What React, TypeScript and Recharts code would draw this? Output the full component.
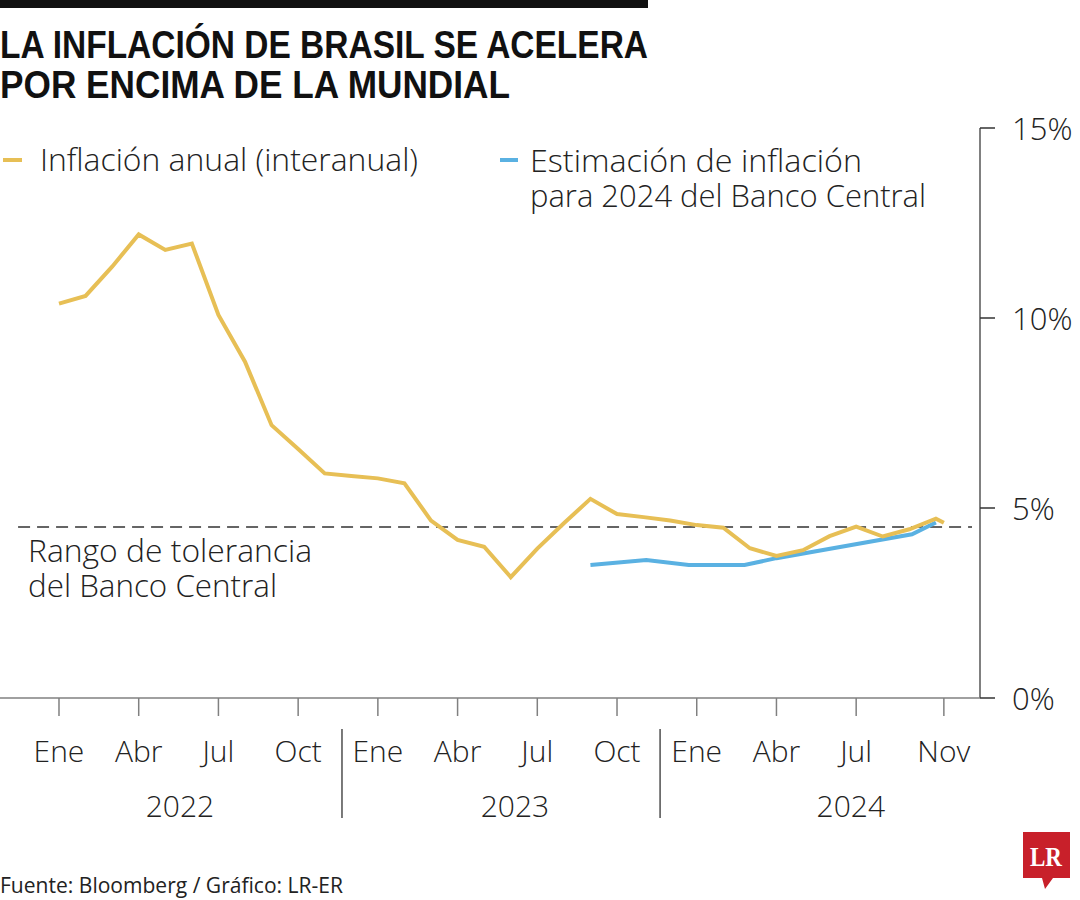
import React from 'react';
import { LineChart, Line, XAxis, YAxis, ReferenceLine } from 'recharts';

// ---- data ----
// month index: 0 = Ene 2022
const inflationMonths = [0,1,2,3,4,5,6,7,8,9,10,11,12,13,14,15,16,17,18,19,20,21,22,23,24,25,26,27,28,29,30,31,32,33,33.3];
const inflationValues = [10.38,10.58,11.35,12.2,11.79,11.96,10.08,8.85,7.18,6.55,5.91,5.84,5.78,5.65,4.67,4.16,3.98,3.18,3.93,4.6,5.24,4.84,4.76,4.67,4.55,4.48,3.94,3.74,3.89,4.26,4.51,4.25,4.44,4.72,4.61];

const estimateMonths = [20, 22.1, 23.7, 25.8, 27, 32.1, 33];
const estimateValues = [3.5, 3.63, 3.5, 3.5, 3.68, 4.31, 4.62];

const toleranceValue = 4.5;

const monthTicks = [0,3,6,9,12,15,18,21,24,27,30,33.3];
const monthTickLabels = ['Ene','Abr','Jul','Oct','Ene','Abr','Jul','Oct','Ene','Abr','Jul','Nov'];

const yearCenters = [4.55, 17.16, 29.8];
const yearLabels = ['2022','2023','2024'];
const yearSeparators = [10.65, 22.62];

const yTicks = [0,5,10,15];

const inflationData = inflationMonths.map((t, i) => ({ t, v: inflationValues[i] }));
const estimateData = estimateMonths.map((t, i) => ({ t, v: estimateValues[i] }));

const X_DOMAIN: [number, number] = [-2.22, 34.66];
const FONT = "'Open Sans', 'Noto Sans', sans-serif";
const TEXT = '#222';
const AXIS = '#808080';
const YELLOW = '#E7BF55';
const BLUE = '#5AB1E2';

const MonthTick = (props: any) => {
  const { x, y, payload } = props;
  const idx = monthTicks.indexOf(payload.value);
  return (
    <text x={x} y={y + 44} textAnchor="middle" fontFamily={FONT} fontWeight={300} fontSize={30} fill={TEXT}>
      {monthTickLabels[idx]}
    </text>
  );
};

const YearTick = (props: any) => {
  const { x, y, payload } = props;
  const yi = yearCenters.indexOf(payload.value);
  if (yi >= 0) {
    return (
      <text x={x} y={y + 37} textAnchor="middle" fontFamily={FONT} fontWeight={300} fontSize={30} fill={TEXT}>
        {yearLabels[yi]}
      </text>
    );
  }
  return <line x1={x} x2={x} y1={y - 51} y2={y + 38} stroke="#222" strokeWidth={1.2} />;
};

const PctTick = (props: any) => {
  const { x, y, payload } = props;
  return (
    <text x={x + 15} y={y + 12} textAnchor="start" fontFamily={FONT} fontWeight={300} fontSize={31} fill={TEXT}>
      {`${payload.value}%`}
    </text>
  );
};

export default function App() {
  return (
    <div style={{ position: 'absolute', left: 0, top: 0, width: 1080, height: 900, background: '#fff', overflow: 'hidden' }}>
      <LineChart width={1080} height={900} margin={{ top: 128, right: 0, left: 0, bottom: 22 }}>
        <XAxis
          dataKey="t"
          type="number"
          domain={X_DOMAIN}
          allowDataOverflow
          ticks={monthTicks}
          interval={0}
          height={80}
          tickSize={18}
          axisLine={{ stroke: AXIS, strokeWidth: 1.5 }}
          tickLine={{ stroke: AXIS, strokeWidth: 1.5 }}
          tick={<MonthTick />}
        />
        <XAxis
          xAxisId="yr"
          dataKey="t"
          type="number"
          domain={X_DOMAIN}
          allowDataOverflow
          ticks={[...yearCenters, ...yearSeparators]}
          interval={0}
          height={100}
          tickSize={0}
          axisLine={false}
          tickLine={false}
          tick={<YearTick />}
        />
        <YAxis
          orientation="right"
          width={100}
          domain={[0, 15]}
          ticks={yTicks}
          interval={0}
          tickSize={15}
          axisLine={{ stroke: AXIS, strokeWidth: 2 }}
          tickLine={{ stroke: '#333', strokeWidth: 1.5 }}
          tick={<PctTick />}
        />
        <ReferenceLine
          segment={[{ x: -1.54, y: toleranceValue }, { x: 34.36, y: toleranceValue }]}
          stroke="#333"
          strokeWidth={1.5}
          strokeDasharray="12 7"
          ifOverflow="visible"
        />
        <Line data={estimateData} dataKey="v" type="linear" stroke={BLUE} strokeWidth={4} dot={false} activeDot={false} isAnimationActive={false} />
        <Line data={inflationData} dataKey="v" type="linear" stroke={YELLOW} strokeWidth={4} dot={false} activeDot={false} isAnimationActive={false} />
      </LineChart>

      <svg width={1080} height={900} style={{ position: 'absolute', left: 0, top: 0, pointerEvents: 'none' }}>
        <rect x={0} y={0} width={648} height={8} fill="#111" />
        <text x={0} y={58} fontFamily="'Liberation Sans Narrow', 'Liberation Sans', sans-serif" fontWeight={700} fontSize={38} fill="#111" textLength={648} lengthAdjust="spacingAndGlyphs">
          LA INFLACIÓN DE BRASIL SE ACELERA
        </text>
        <text x={0} y={98} fontFamily="'Liberation Sans Narrow', 'Liberation Sans', sans-serif" fontWeight={700} fontSize={38} fill="#111" textLength={510} lengthAdjust="spacingAndGlyphs">
          POR ENCIMA DE LA MUNDIAL
        </text>

        <line x1={3} x2={22} y1={160} y2={160} stroke={YELLOW} strokeWidth={4} />
        <text x={40} y={171} fontFamily={FONT} fontWeight={300} fontSize={32} fill={TEXT} textLength={378} lengthAdjust="spacingAndGlyphs">
          Inflación anual (interanual)
        </text>
        <line x1={500} x2={518} y1={160} y2={160} stroke={BLUE} strokeWidth={4} />
        <text x={530} y={172} fontFamily={FONT} fontWeight={300} fontSize={32} fill={TEXT} textLength={332} lengthAdjust="spacingAndGlyphs">
          Estimación de inflación
        </text>
        <text x={530} y={207} fontFamily={FONT} fontWeight={300} fontSize={32} fill={TEXT} textLength={396} lengthAdjust="spacingAndGlyphs">
          para 2024 del Banco Central
        </text>

        <text x={28} y={562} fontFamily={FONT} fontWeight={300} fontSize={32} fill={TEXT} textLength={284} lengthAdjust="spacingAndGlyphs">
          Rango de tolerancia
        </text>
        <text x={28} y={597} fontFamily={FONT} fontWeight={300} fontSize={32} fill={TEXT} textLength={249} lengthAdjust="spacingAndGlyphs">
          del Banco Central
        </text>

        <text x={0} y={893} fontFamily="'Liberation Sans Narrow', 'Open Sans', sans-serif" fontWeight={400} fontSize={21} fill={TEXT} textLength={343} lengthAdjust="spacingAndGlyphs">
          Fuente: Bloomberg / Gráfico: LR-ER
        </text>

        <path d="M1023,832 H1070 V878 H1053 L1045,889 L1042,878 H1023 Z" fill="#C8202A" />
        <text x={1046} y={866} textAnchor="middle" fontFamily="'Liberation Serif', serif" fontWeight={700} fontSize={27} fill="#fff" textLength={32} lengthAdjust="spacingAndGlyphs">
          LR
        </text>
      </svg>
    </div>
  );
}
